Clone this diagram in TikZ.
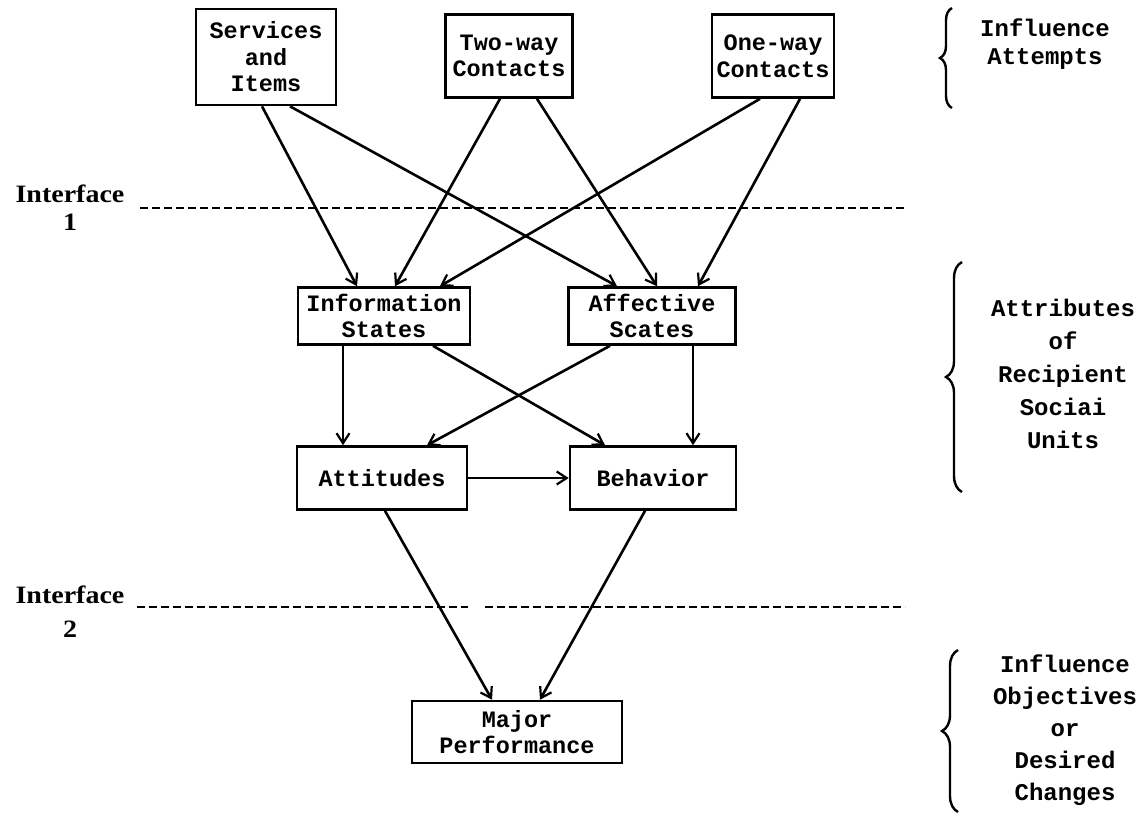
\documentclass[tikz,border=0pt]{standalone}
\usepackage{fontspec}
\usetikzlibrary{arrows.meta,decorations.pathreplacing}
\newfontfamily\tw{Liberation Mono}
\newfontfamily\ifc{Liberation Serif}[FakeStretch=1.12]
\begin{document}
\begin{tikzpicture}[x=1pt,y=-1pt,
  box/.style={draw,line width=2.6pt,inner sep=0pt,align=center,
    font=\tw\bfseries\fontsize{23.5}{26.5}\selectfont},
  arr/.style={line width=2.6pt,-{Straight Barb[length=10pt,width=13pt,line width=2.2pt]}},
  iface/.style={line width=2.8pt,dash pattern=on 8pt off 4pt},
  lab/.style={align=center,font=\tw\bfseries\fontsize{24}{33}\selectfont},
  ilab/.style={align=center,font=\ifc\bfseries\fontsize{25}{28}\selectfont},
  brc/.style={line width=2.4pt,decorate,decoration={brace,amplitude=#1}}
]
\useasboundingbox (0,0) rectangle (1139,823);
% boxes
\node[box,minimum width=140pt,minimum height=96pt] (svc) at (266,57) {Services\\and\\Items};
\node[box,minimum width=127pt,minimum height=83pt] (two) at (509,56) {Two-way\\Contacts};
\node[box,minimum width=122pt,minimum height=83pt] (one) at (773,56) {One-way\\Contacts};
\node[box,minimum width=172pt,minimum height=57pt] (info) at (384,316) {Information\\States};
\node[box,minimum width=167pt,minimum height=57pt] (aff) at (652,316) {Affective\\Scates};
\node[box,minimum width=170pt,minimum height=63pt] (att) at (382,478) {Attitudes};
\node[box,minimum width=166pt,minimum height=63pt] (beh) at (653,478) {Behavior};
\node[box,minimum width=210pt,minimum height=62pt] (maj) at (517,732) {Major\\Performance};
% arrows
\draw[arr] ([xshift=-4pt]svc.south) -- ([xshift=-27pt]info.north);
\draw[arr] ([xshift=24pt]svc.south) -- ([xshift=-35pt]aff.north);
\draw[arr] ([xshift=-9pt]two.south) -- ([xshift=11pt]info.north);
\draw[arr] ([xshift=28pt]two.south) -- ([xshift=5pt]aff.north);
\draw[arr] ([xshift=-13pt]one.south) -- ([xshift=56pt]info.north);
\draw[arr] ([xshift=27pt]one.south) -- ([xshift=46pt]aff.north);
\draw[arr] ([xshift=-41pt]info.south) -- ([xshift=-39pt]att.north);
\draw[arr] ([xshift=49pt]info.south) -- ([xshift=-48pt]beh.north);
\draw[arr] ([xshift=-42pt]aff.south) -- ([xshift=45pt]att.north);
\draw[arr] ([xshift=41pt]aff.south) -- ([xshift=40pt]beh.north);
\draw[arr] (att.east) -- (beh.west);
\draw[arr] ([xshift=3pt]att.south) -- ([xshift=-25pt]maj.north);
\draw[arr] ([xshift=-8pt]beh.south) -- ([xshift=23pt]maj.north);
% interfaces
\node[ilab] (if1) at (70,208) {Interface\\1};
\coordinate (i1a) at (140,208);
\coordinate (i1b) at (905,208);
\draw[iface] (i1a) -- (i1b);
\node[ilab,font=\ifc\bfseries\fontsize{25}{34}\selectfont] (if2) at (70,612) {Interface\\2};
\coordinate (i2a) at (137,607);
\coordinate (i2b) at (468,607);
\coordinate (i2c) at (485,607);
\coordinate (i2d) at (905,607);
\draw[iface] (i2a) -- (i2b);
\draw[iface] (i2c) -- (i2d);
% braces and labels
\coordinate (b1a) at (952,108);
\coordinate (b1b) at (952,8);
\draw[brc=12pt] (b1a) -- (b1b);
\node[lab,font=\tw\bfseries\fontsize{24}{28}\selectfont] (r1) at (1045,44) {Influence\\Attempts};
\coordinate (b2a) at (962,492);
\coordinate (b2b) at (962,262);
\draw[brc=16pt] (b2a) -- (b2b);
\node[lab] (r2) at (1063,374) {Attributes\\of\\Recipient\\Sociai\\Units};
\coordinate (b3a) at (958,812);
\coordinate (b3b) at (958,650);
\draw[brc=16pt] (b3a) -- (b3b);
\node[lab,font=\tw\bfseries\fontsize{24}{32}\selectfont] (r3) at (1065,730) {Influence\\Objectives\\or\\Desired\\Changes};
\end{tikzpicture}
\end{document}
